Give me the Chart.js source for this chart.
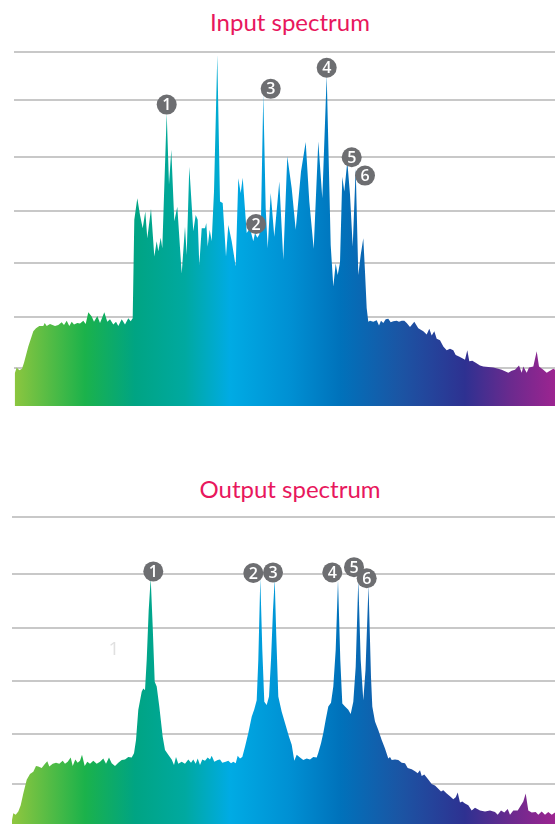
<!DOCTYPE html>
<html><head><meta charset="utf-8">
<script src="https://cdn.jsdelivr.net/npm/chart.js@4.4.1/dist/chart.umd.min.js"></script>
<style>
html,body{margin:0;padding:0;background:#fff;width:555px;height:824px;overflow:hidden;}
body{position:relative;}
.title{position:absolute;left:0;width:580px;text-align:center;font-family:Lato,sans-serif;font-size:24px;line-height:24px;color:#e8175d;white-space:nowrap;}
#c1{position:absolute;left:0;top:0;}
#c2{position:absolute;left:0;top:500px;}
</style></head><body>
<div class="title" style="top:10px">Input spectrum</div>
<div class="title" style="top:477px">Output spectrum</div>
<canvas id="c1" width="555" height="406"></canvas>
<canvas id="c2" width="555" height="324"></canvas>
<script>
// ---------- DATA ----------
const inputChannel = [14.7,16.7,19.3,22,24,28.3,33.3,36,39.3,43.3,44.7,46.7,50,55,58.3,61.7,64,66.7,69.3,71.7,74,77.3,80,83.3,85.7,88.3,91.7,94,97.3,100,104.3,107.3,110,113.3,116,118.3,121.7,125,128.3,130.7,132.7,134.3,137.3,140,142.7,145.3,147.3,151,154.3,156.7,158.3,160.7,162.3,166.7,169,171.3,174.3,177.3,181.7,185,186.7,189.3,193.3,195.7,197.7,199.3,201.7,205,206.3,207.7,209.7,211.7,214,217.3,220,222.7,226,228.3,231.7,235.7,238.3,240.7,242.7,246.7,250,253.3,255,257.3,259.3,261,263.3,265.7,267.7,270.7,274.3,279.3,283.3,287.3,291.7,295.7,301,305.7,309.3,313.7,318.3,322.3,326.7,330.7,333.3,335.7,337.7,340,342.3,344.3,347.3,350,352.7,355.7,358.3,360.7,363.3,365,366.7,368.3,370,373.3,376.7,379,381,383.3,385.7,388.3,390.7,393.3,396.7,399,401.7,404.3,406.7,410,414.3,418.3,423.3,426.7,429.3,431.7,434.3,436.7,440,443.3,446.7,450,453.3,455.7,459,462.3,465,467.3,469.3,472.3,475.7,480,483.3,488.3,493.3,498.3,501.7,505,508.3,511.7,515,519,521.7,523.3,526.7,529,533.3,536.7,539,543.3,546.7,550,553.3,555];
const inputLevel = [-1.0,0.1,-0.4,-0.1,1.0,4.1,7.0,7.6,8.0,8.0,8.6,8.0,8.4,8.0,8.2,8.7,8.2,9.0,8.0,8.8,8.3,8.6,8.5,9.0,8.4,10.6,9.8,8.8,9.9,8.6,10.6,8.8,9.3,8.3,8.8,8.0,9.3,8.3,9.5,8.9,9.5,28.2,32.3,29.1,26.6,29.8,24.7,30.3,21.2,24.1,22.2,24.8,22.8,48.5,34.9,41.5,27.9,30.7,18.0,26.9,21.5,38.3,26.0,29.1,28.2,19.6,26.6,26.6,27.6,23.1,26.3,24.1,33.6,59.6,31.7,31.4,21.2,27.2,24.1,19.3,36.1,33.3,36.2,25.7,26.6,24.1,25.7,24.8,25.4,28.5,52.1,30.4,22.8,33.3,25.0,35.5,20.6,40.3,34.2,26.3,37.4,43.0,31.7,22.7,43.1,32.3,55.7,23.4,15.5,19.9,17.7,20.1,36.4,33.6,39.3,33.0,23.1,38.0,17.7,21.5,24.7,18.3,11.4,8.8,9.0,8.8,9.1,8.1,9.0,8.6,9.3,9.4,8.7,8.9,9.0,8.8,9.0,9.0,8.6,7.8,8.8,7.6,7.0,6.4,7.5,6.2,7.0,5.6,5.3,4.1,3.4,3.7,3.4,2.5,2.2,1.9,1.6,3.4,1.3,1.4,1.0,0.5,0.3,0.2,0.1,-0.1,-0.3,-0.6,-0.9,-0.5,-0.3,0.5,-0.9,0.3,-0.9,0.1,0.3,3.2,0.3,-0.3,-0.9,-0.5,-0.1,-0.3];

const outputChannel = [11.7,13.3,15.7,18.3,20.7,23.3,26.7,30,33.3,36,38.3,41.7,45,47.3,49.3,52.7,56,59.3,62.7,65,67.7,70.7,72.7,75.3,77.7,80,82,84.7,87.3,90,93.3,96.7,100,103.3,106,109,111.7,115,118.3,121.7,125,128.3,131.7,134,136,138.3,141.7,143.3,145,146.7,148.7,150.7,152.7,154.7,156.7,159.3,162.7,165,168.3,171.7,174,176,178.3,181.7,185,188.3,191,193.3,195.7,197.7,200,202.3,205,207.7,210,211.7,214.3,217.7,220,222.3,225.7,228.3,231,233.3,235.7,237.7,240,242.3,245,248.3,251.7,254.3,256.7,258.3,260.3,262.3,264.3,266.7,269,271,273,274.7,276.3,278.3,281.7,285,289,291.7,294.3,296.7,300,303.3,306.7,310,313.3,316.7,318.3,321,323.3,325.7,328.3,331,333.3,335.7,338,340.3,342.3,345,348.3,350.7,353.3,355.7,358.3,360.7,363.3,365.5,368.5,371,372.3,375,378.3,381.7,385,388.3,390,391.7,395,398.3,401.7,405,407.7,411.7,415,417.7,420,421.7,424.3,426.7,430,431.7,435,438.3,441,443.3,446.7,450,453.3,455.7,457.7,460,462.3,465,468.3,471.7,475,480,485,490,495,497.7,501,504.3,507.7,510,513.3,517.7,521,523.3,525.7,528.3,531.7,535.7,538.3,541.7,545,548.3,551.7,555];
const outputLevel = [-7.1,-5.5,-5.8,-5.2,-4.0,-1.8,0.8,1.9,2.3,3.4,3.3,3.0,3.8,4.3,3.3,3.8,4.0,3.8,4.4,3.8,4.2,5.0,3.4,4.6,4.0,4.4,5.5,3.4,4.2,3.8,4.4,3.8,4.2,4.8,3.8,5.0,3.9,3.4,4.0,4.5,4.6,5.1,5.0,5.8,8.3,14.0,17.4,18.0,17.7,23.4,32.8,38.8,29.7,19.3,18.4,14.6,8.9,6.4,5.5,4.6,3.6,5.1,3.8,4.2,3.8,4.6,4.0,4.6,3.8,4.8,3.6,4.6,4.4,5.0,4.6,5.3,4.2,4.5,4.6,4.0,4.2,4.4,3.9,4.2,3.9,5.3,4.8,5.1,7.0,9.6,12.7,14.1,15.8,23.4,38.8,25.3,15.5,14.9,16.5,23.4,32.8,38.6,27.8,16.5,13.6,11.5,8.9,7.4,4.4,5.5,5.0,4.5,4.8,4.6,5.1,5.0,5.9,7.7,9.6,12.1,14.6,15.3,18.4,25.3,38.5,23.4,15.2,14.6,14.0,13.2,15.5,22.1,38.5,23.4,15.8,21.5,37.5,20.2,14.6,11.8,10.2,8.3,6.7,4.8,5.1,4.5,4.6,4.5,4.0,3.9,3.0,2.8,2.4,2.0,2.6,1.5,1.8,1.2,0.4,0,-0.3,-0.9,-1.4,-1.2,-1.8,-2.3,-2.9,-2.5,-1.6,-3.5,-3.3,-3.7,-4.0,-5.0,-4.5,-5.0,-5.2,-5.0,-5.3,-5.8,-5.0,-5.4,-4.7,-5.8,-5.0,-5.0,-4.0,-3.3,-1.8,-5.0,-5.4,-5.3,-5.8,-5.2,-5.8,-5.3,-5.8,-5.4];

const peakLabels = ['1','2','3','4','5','6'];
const inputPeakChannel = [166.7,256,270.7,326.7,351.7,365];
const inputPeakLevel = [50.1,27.4,53.1,57.1,40.1,36.6];
const outputPeakChannel = [153.3,253.3,273,332.3,354,366.7];
const outputPeakLevel = [40.1,39.8,39.9,39.9,40.9,38.8];
const strayLabel = ['1'];
const strayChannel = [114];
const strayLevel = [25.3];

const inputGrid = [0,9.8,19.9,29.9,40.1,50.9,60.1];
const outputGrid = [0,9.5,19.5,29.5,39.6,50.3];

// ---------- STYLE ----------
const gradStops = [[14,'#8dc63f'],[85,'#1bb24b'],[135,'#00a483'],[185,'#00a9a0'],[230,'#00abe4'],[290,'#0090d3'],[340,'#0072bb'],[400,'#1b55a4'],[465,'#2e3191'],[510,'#6a2a8e'],[555,'#9c2490']];

function gradient(context){
  const chart = context.chart;
  const {ctx, chartArea, scales} = chart;
  if (!chartArea) return '#00a9a0';
  const x0 = scales.x.getPixelForValue(14), x1 = scales.x.getPixelForValue(555);
  const g = ctx.createLinearGradient(x0, 0, x1, 0);
  gradStops.forEach(([p, c]) => g.addColorStop(Math.max(0, Math.min(1, (p - 14) / 541)), c));
  return g;
}

const markerPlugin = {
  id: 'markers',
  afterDatasetsDraw(chart, args, opts) {
    const {ctx, scales: {x, y}} = chart;
    ctx.save();
    opts.xs.forEach((cx, i) => {
      const px = x.getPixelForValue(cx), py = y.getPixelForValue(opts.ys[i]);
      ctx.beginPath(); ctx.arc(px, py, 10, 0, Math.PI * 2);
      ctx.fillStyle = '#6d6e71'; ctx.fill();
      ctx.fillStyle = '#ffffff';
      ctx.font = '600 16px "Open Sans", sans-serif';
      ctx.textAlign = 'center'; ctx.textBaseline = 'middle';
      ctx.fillText(opts.labels[i], px, py + 1);
    });
    (opts.notes || []).forEach(n => {
      ctx.fillStyle = '#e0e0e0';
      ctx.font = '19px "Open Sans", sans-serif';
      ctx.textAlign = 'center'; ctx.textBaseline = 'middle';
      ctx.fillText(n.t, x.getPixelForValue(n.x), y.getPixelForValue(n.y));
    });
    ctx.restore();
  }
};

function makeChart(id, xs, ys, grid, yMin, yMax, xMin, pad, marks, notes) {
  return new Chart(document.getElementById(id), {
    type: 'line',
    data: { datasets: [{
      data: xs.map((v, i) => ({x: v, y: ys[i]})),
      fill: 'start', backgroundColor: gradient,
      borderColor: 'rgba(0,0,0,0)', borderWidth: 0,
      pointRadius: 0, tension: 0
    }]},
    options: {
      responsive: false, animation: false, devicePixelRatio: 1,
      layout: { padding: pad },
      plugins: { legend: {display: false}, tooltip: {enabled: false}, title: {display: false},
        markers: { xs: marks.xs, ys: marks.ys, labels: marks.labels, notes: notes } },
      scales: {
        x: { type: 'linear', display: false, min: xMin, max: 555 },
        y: { type: 'linear', min: yMin, max: yMax,
          afterBuildTicks: s => { s.ticks = grid.map(v => ({value: v})); },
          ticks: { display: false },
          border: { display: false },
          grid: { color: '#c8c8c8', lineWidth: 2, drawTicks: false } }
      }
    },
    plugins: [markerPlugin]
  });
}

makeChart('c1', inputChannel, inputLevel, inputGrid, -7.2, 60.1, 14,
  {top: 52, left: 14, right: 0, bottom: 0},
  {xs: inputPeakChannel, ys: inputPeakLevel, labels: peakLabels}, []);
makeChart('c2', outputChannel, outputLevel, outputGrid, -7.55, 50.3, 12,
  {top: 17.3, left: 12, right: 0, bottom: 0},
  {xs: outputPeakChannel, ys: outputPeakLevel, labels: peakLabels},
  strayChannel.map((c, i) => ({x: c, y: strayLevel[i], t: strayLabel[i]})));
</script>
</body></html>
